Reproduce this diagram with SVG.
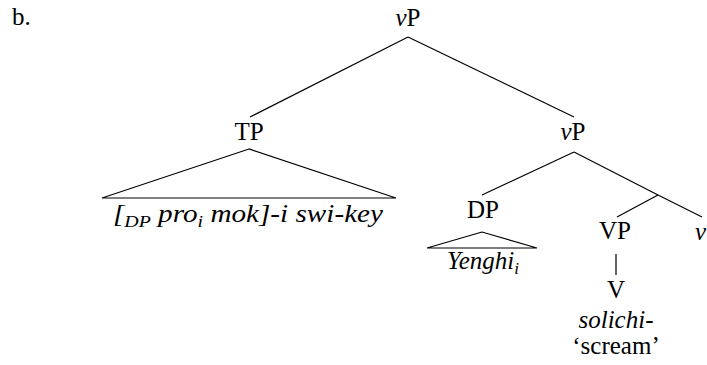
<svg xmlns="http://www.w3.org/2000/svg" width="707" height="365" viewBox="0 0 707 365">
<defs>
<style type="text/css">
text{font-family:"Liberation Serif","Times New Roman",serif;font-size:25px;fill:#000}
.it{font-style:italic}
.s{font-size:17px}
.e line,.e polygon{stroke:#000;stroke-width:1.2;fill:none}
</style>
</defs>
<rect width="707" height="365" fill="#fff"/>
<g id="label"><text x="12" y="25">b.</text></g>
<g id="n-vP1"><text x="408" y="26" text-anchor="middle"><tspan class="it">v</tspan>P</text></g>
<g id="n-TP"><text x="249" y="140" text-anchor="middle">TP</text></g>
<g id="n-TP-content"><text x="113" y="222" class="it" textLength="270" lengthAdjust="spacingAndGlyphs">[<tspan class="s" dy="5">DP</tspan><tspan dy="-5"> pro</tspan><tspan class="s" dy="5">i</tspan><tspan dy="-5"> mok]-i swi-key</tspan></text></g>
<g id="n-vP2"><text x="573" y="140" text-anchor="middle"><tspan class="it">v</tspan>P</text></g>
<g id="n-DP"><text x="483" y="218" text-anchor="middle">DP</text></g>
<g id="n-DP-content"><text x="483" y="269" text-anchor="middle" class="it">Yenghi<tspan class="s" dy="5">i</tspan></text></g>
<g id="n-VP"><text x="615" y="239" text-anchor="middle">VP</text></g>
<g id="n-v"><text x="695" y="240" class="it">v</text></g>
<g id="n-V"><text x="616" y="298" text-anchor="middle">V</text></g>
<g id="n-solichi"><text x="616" y="328" text-anchor="middle" class="it">solichi-</text></g>
<g id="n-scream"><text x="616" y="354" text-anchor="middle">‘scream’</text></g>
<g id="edges" class="e">
<line x1="408" y1="37" x2="250" y2="117"/>
<line x1="408" y1="37" x2="574" y2="117"/>
<polygon points="249,149 102,198 396,198"/>
<line x1="574" y1="152" x2="482" y2="195"/>
<line x1="574" y1="152" x2="658" y2="195"/>
<line x1="658" y1="195" x2="617" y2="217"/>
<line x1="658" y1="195" x2="702" y2="217"/>
<polygon points="482,232 427,248 537,248"/>
<line x1="616" y1="254" x2="616" y2="275"/>
</g>
</svg>
